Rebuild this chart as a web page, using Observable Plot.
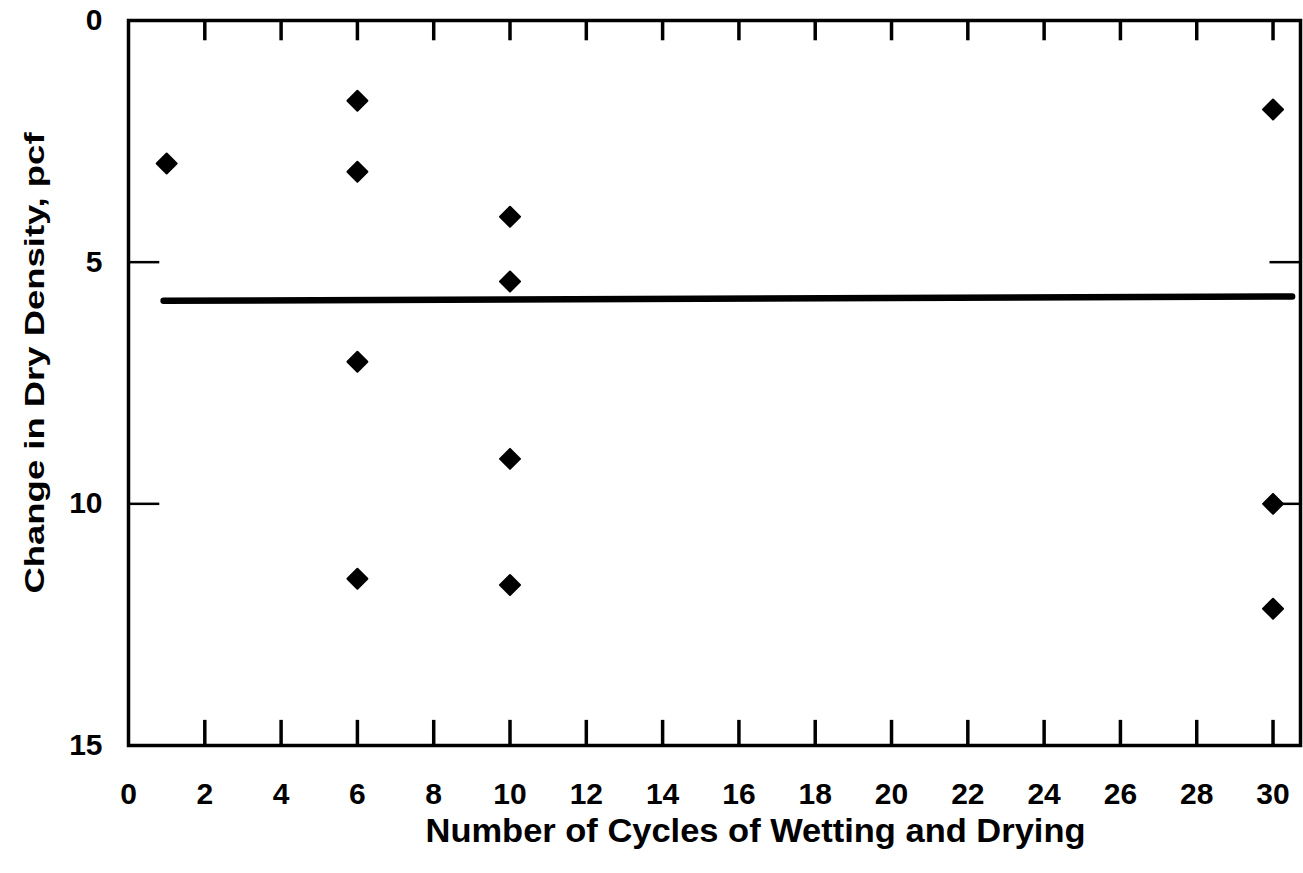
<!DOCTYPE html>
<html>
<head>
<meta charset="utf-8">
<script src="https://cdn.jsdelivr.net/npm/d3@7"></script>
<script src="https://cdn.jsdelivr.net/npm/@observablehq/plot@0.6"></script>
<style>
  html, body { margin: 0; padding: 0; background: #fff; }
  #chart svg { display: block; }
</style>
</head>
<body>
<div id="chart"></div>
<script>
// Change in dry density after repeated wetting/drying cycles
const cycles = [1, 6, 6, 6, 6, 10, 10, 10, 10, 30, 30, 30];
const densityChange = [2.96, 1.66, 3.13, 7.06, 11.55, 4.06, 5.40, 9.07, 11.68, 1.84, 10.0, 12.17];

// Fitted trend line (nearly horizontal)
const trendCycles = [0.92, 30.5];
const trendChange = [5.80, 5.71];

// Axis ticks
const xTickLabels = d3.range(0, 31, 2);
const xTickMarks = d3.range(2, 31, 2);
const yTickLabels = [0, 5, 10, 15];
const yTickMarks = [5, 10];

const xTitle = "Number of Cycles of Wetting and Drying";
const yTitle = "Change in Dry Density, pcf";

const xMax = 30.72;
const yMax = 15;

const points = cycles.map((c, i) => ({cycles: c, change: densityChange[i]}));
const trend = trendCycles.map((c, i) => ({cycles: c, change: trendChange[i]}));

const font = "'Liberation Sans', Arial, Helvetica, sans-serif";

const chart = Plot.plot({
  width: 1303,
  height: 873,
  marginLeft: 128,
  marginRight: 3,
  marginTop: 20,
  marginBottom: 128,
  style: {fontFamily: font, background: "#fff", color: "#000"},
  x: {domain: [0, xMax]},
  y: {domain: [0, yMax], reverse: true},
  marks: [
    // inward tick marks along top and bottom
    Plot.ruleX(xTickMarks, {x: d => d, y1: yMax, y2: yMax - 0.52, stroke: "#000", strokeWidth: 3.5}),
    Plot.ruleX(xTickMarks, {x: d => d, y1: 0, y2: 0.42, stroke: "#000", strokeWidth: 3.5}),
    // inward tick marks along left and right
    Plot.ruleY(yTickMarks, {y: d => d, x1: 0, x2: 0.82, stroke: "#000", strokeWidth: 2.5}),
    Plot.ruleY(yTickMarks, {y: d => d, x1: xMax - 0.8, x2: xMax, stroke: "#000", strokeWidth: 2.5}),
    Plot.frame({stroke: "#000", strokeWidth: 3.5}),
    Plot.axisX(xTickLabels, {
      tickSize: 0, tickPadding: 37, label: null,
      fontSize: 30, fontWeight: "bold", fill: "#000"
    }),
    Plot.axisY(yTickLabels, {
      tickSize: 0, tickPadding: 26, label: null,
      fontSize: 30, fontWeight: "bold", fill: "#000"
    }),
    Plot.line(trend, {x: "cycles", y: "change", stroke: "#000", strokeWidth: 6.5}),
    Plot.dot(points, {
      x: "cycles", y: "change", symbol: "diamond2", r: 9,
      fill: "#000", stroke: "#000", strokeWidth: 2, strokeLinejoin: "round"
    }),
    Plot.text([xTitle], {
      frameAnchor: "bottom", textAnchor: "middle", lineAnchor: "middle",
      dx: 41, dy: 86,
      fontSize: 34, fontWeight: "bold", fill: "#000"
    }),
    Plot.text([yTitle], {
      frameAnchor: "left", textAnchor: "middle", lineAnchor: "middle",
      dx: -93, dy: -20, rotate: -90,
      fontSize: 28, fontWeight: "bold", fill: "#000"
    })
  ]
});

// fit the two titles to their drawn lengths
const titleLengths = new Map([[xTitle, 660], [yTitle, 461]]);
d3.select(chart).selectAll("text").each(function () {
  const len = titleLengths.get(this.textContent);
  if (len) d3.select(this).attr("textLength", len).attr("lengthAdjust", "spacingAndGlyphs");
});

document.getElementById("chart").append(chart);
</script>
</body>
</html>
